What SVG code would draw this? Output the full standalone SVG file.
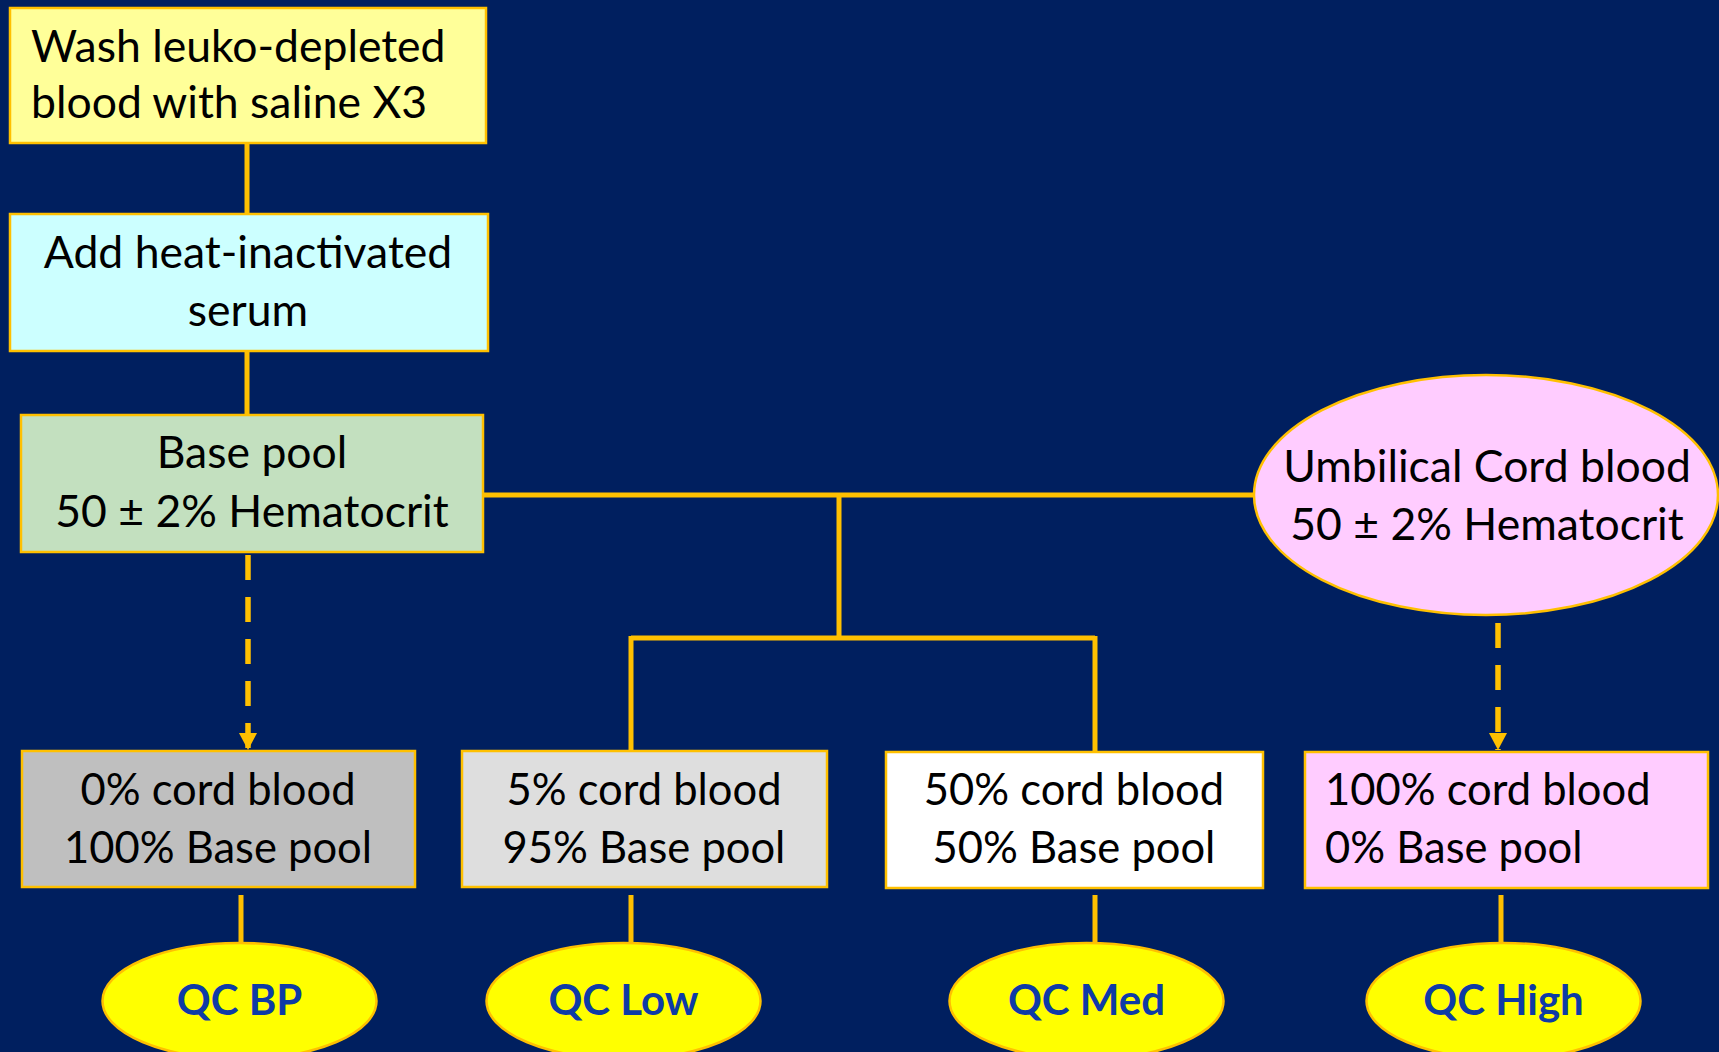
<svg xmlns="http://www.w3.org/2000/svg" width="1719" height="1052" viewBox="0 0 1719 1052">
<defs>
<style>
.box{stroke:#FFC000;stroke-width:2.5}
.t{font-family:Lato,"Open Sans","Liberation Sans",sans-serif;font-size:44.5px;fill:#000}
.b{font-size:43.5px}
.c{text-anchor:middle}
.qc{font-family:Lato,"Open Sans","Liberation Sans",sans-serif;font-size:42px;font-weight:bold;fill:#0E3BA6;text-anchor:middle}
.ln{stroke:#FFC000;stroke-width:5;fill:none}
.dl{stroke:#FFC000;stroke-width:5.5;fill:none;stroke-dasharray:25 17}
</style>
<marker id="ah" markerWidth="18" markerHeight="18" refX="17" refY="9" orient="auto" markerUnits="userSpaceOnUse">
<path d="M0,0 L17,9 L0,18 Z" fill="#FFC000"/>
</marker>
</defs>
<rect x="0" y="0" width="1719" height="1052" fill="#001F5F"/>
<g id="connectors">
<line class="ln" x1="247" y1="143" x2="247" y2="214"/>
<line class="ln" x1="247" y1="351" x2="247" y2="415"/>
<line class="ln" x1="483" y1="495" x2="1255" y2="495"/>
<line class="ln" x1="839" y1="495" x2="839" y2="638"/>
<line class="ln" x1="631" y1="638" x2="1095" y2="638"/>
<line class="ln" x1="631" y1="636" x2="631" y2="751"/>
<line class="ln" x1="1095" y1="636" x2="1095" y2="752"/>
<path class="dl" d="M248,555 V750" marker-end="url(#ah)"/>
<path class="dl" d="M1498,623 V750" marker-end="url(#ah)"/>
<line class="ln" x1="241" y1="895" x2="241" y2="943"/>
<line class="ln" x1="631" y1="895" x2="631" y2="943"/>
<line class="ln" x1="1095" y1="895" x2="1095" y2="943"/>
<line class="ln" x1="1501" y1="895" x2="1501" y2="943"/>
</g>
<g id="wash">
<rect class="box" x="10" y="8" width="476" height="135" fill="#FFFF99"/>
<text class="t" x="31" y="62">Wash leuko-depleted</text>
<text class="t" x="31" y="118">blood with saline X3</text>
</g>
<g id="serum">
<rect class="box" x="10" y="214" width="478" height="137" fill="#CCFFFF"/>
<text class="t c" x="248" y="268">Add heat-inactivated</text>
<text class="t c" x="248" y="326">serum</text>
</g>
<g id="basepool">
<rect class="box" x="21" y="415" width="462" height="137" fill="#C3E0BF"/>
<text class="t c" x="252" y="468">Base pool</text>
<text class="t c" x="252" y="527">50 ± 2% Hematocrit</text>
</g>
<g id="cord">
<ellipse class="box" cx="1486" cy="495" rx="232" ry="120" fill="#FFCCFF"/>
<text class="t c" x="1487" y="482">Umbilical Cord blood</text>
<text class="t c" x="1487" y="540">50 ± 2% Hematocrit</text>
</g>
<g id="mix0">
<rect class="box" x="22" y="751" width="393" height="136" fill="#BFBFBF"/>
<text class="t b c" x="218" y="805">0% cord blood</text>
<text class="t b c" x="218" y="863">100% Base pool</text>
</g>
<g id="mix5">
<rect class="box" x="462" y="751" width="365" height="136" fill="#DEDEDE"/>
<text class="t b c" x="644" y="805">5% cord blood</text>
<text class="t b c" x="644" y="863">95% Base pool</text>
</g>
<g id="mix50">
<rect class="box" x="886" y="752" width="377" height="136" fill="#FFFFFF"/>
<text class="t b c" x="1074" y="805">50% cord blood</text>
<text class="t b c" x="1074" y="863">50% Base pool</text>
</g>
<g id="mix100">
<rect class="box" x="1305" y="752" width="403" height="136" fill="#FFCCFF"/>
<text class="t b" x="1325" y="805">100% cord blood</text>
<text class="t b" x="1325" y="863">0% Base pool</text>
</g>
<g id="qcbp">
<ellipse class="box" cx="239.5" cy="1001" rx="137" ry="58" fill="#FFFF00"/>
<text class="qc" x="239.5" y="1015">QC BP</text>
</g>
<g id="qclow">
<ellipse class="box" cx="623.5" cy="1001" rx="137" ry="58" fill="#FFFF00"/>
<text class="qc" x="623.5" y="1015">QC Low</text>
</g>
<g id="qcmed">
<ellipse class="box" cx="1086.5" cy="1001" rx="137" ry="58" fill="#FFFF00"/>
<text class="qc" x="1086.5" y="1015">QC Med</text>
</g>
<g id="qchigh">
<ellipse class="box" cx="1503.5" cy="1001" rx="137" ry="58" fill="#FFFF00"/>
<text class="qc" x="1503.5" y="1015">QC High</text>
</g>
</svg>
